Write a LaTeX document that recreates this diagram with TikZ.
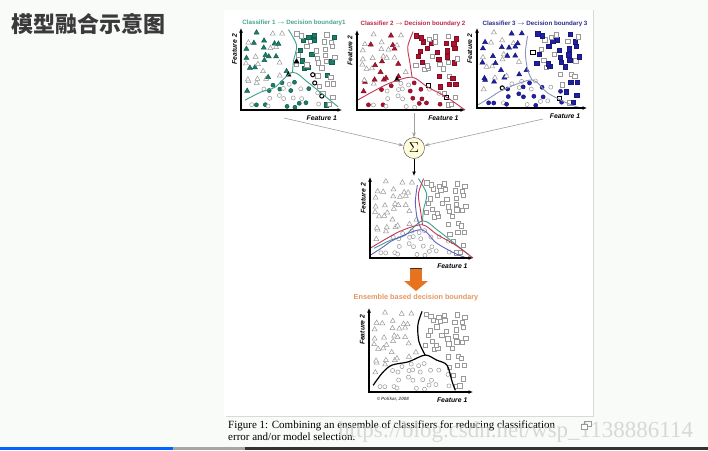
\documentclass[tikz,border=0pt]{standalone}
\usepackage{fontspec}
\setmainfont{Liberation Serif}
\setsansfont{Liberation Sans}
\newfontfamily\cjkfont{Noto Sans CJK SC}
\usetikzlibrary{shapes.geometric,arrows.meta,positioning}

\definecolor{pagebg}{RGB}{249,251,249}
\definecolor{titlegray}{RGB}{58,58,58}
\definecolor{cone}{RGB}{28,125,105}
\definecolor{ctwo}{RGB}{175,18,48}
\definecolor{cthree}{RGB}{32,32,165}
\definecolor{bone}{RGB}{60,160,140}
\definecolor{btwo}{RGB}{195,55,85}
\definecolor{bthree}{RGB}{140,150,185}
\definecolor{tone}{RGB}{70,165,145}
\definecolor{ttwo}{RGB}{190,40,70}
\definecolor{tthree}{RGB}{45,45,140}
\definecolor{ensorange}{RGB}{232,115,30}
\definecolor{enstext}{RGB}{230,150,95}

\tikzset{
  axis/.style={line width=1.1pt, {Latex[length=4.5pt,width=4pt]}-{Latex[length=4.5pt,width=4pt]}},
  flabel/.style={font=\sffamily\bfseries\itshape\fontsize{6.8}{7}\selectfont, inner sep=0pt},
  ctitle/.style={font=\sffamily\bfseries\fontsize{6.2}{6.5}\selectfont, inner sep=0pt},
  tri/.style={regular polygon, regular polygon sides=3, inner sep=0pt, minimum size=5.8pt, line width=0.5pt},
  sq/.style={rectangle, inner sep=0pt, minimum size=4.3pt, line width=0.5pt},
  dot/.style={circle, inner sep=0pt, minimum size=4.1pt, line width=0.5pt},
  bnd/.style={line width=0.9pt},
  conn/.style={draw=gray!75, line width=0.6pt, -{Stealth[length=5pt,width=3.5pt]}},
}

% one data set, drawn in every panel: #1 tag, #2 colour, #3 share filled, #4 shift of that share
\newcommand{\scatterdots}[4]{%
  \pgfmathsetseed{2008}
  \foreach \gx in {0,...,11}{
  \foreach \gy in {0,...,10}{
    \pgfmathsetmacro{\px}{0.075+0.075*\gx+0.065*(rnd-0.5)}
    \pgfmathsetmacro{\py}{0.06+0.086*\gy+0.065*(rnd-0.5)}
    \pgfmathsetmacro{\pr}{rnd}
    \pgfmathsetmacro{\pk}{rnd}
    \pgfmathsetmacro{\vb}{\px<0.13 ? 0.08+1.67*(\px-0.04) : (\px<0.22 ? 0.23+(\px-0.13) : (\px<0.38 ? 0.32+0.25*(\px-0.22) : (\px<0.54 ? 0.36+0.5*(\px-0.38) : (\px<0.75 ? 0.44-0.57*(\px-0.54) : 0.32-3.75*(\px-0.75)))))}
    \pgfmathtruncatemacro{\cls}{\pk<0.12 ? 0 : (abs(\py-\vb)<0.04 ? 0 : (\py<\vb ? 3 : (abs(\px-0.49)<0.035 ? 0 : (\px<0.49 ? 1 : 2))))}
    \pgfmathsetmacro{\ps}{\pr+#4-floor(\pr+#4)}
    \pgfmathtruncatemacro{\hit}{\ps<#3 ? 1 : 0}
    \ifnum\cls>0
      \ifcase\cls\or\def\mk{tri}\or\def\mk{sq}\or\def\mk{dot}\fi
      \ifnum\hit=1
        \node[\mk, draw=#2!75!black, fill=#2] (#1-\gx-\gy) at (\px,\py) {};
      \else
        \node[\mk, draw=gray!80, fill=white] (#1-\gx-\gy) at (\px,\py) {};
      \fi
    \fi
  }}
}

% axes of one panel
\newcommand{\featureaxes}[1]{%
  \draw[axis] (0,1) |- (1,0);
  \node[flabel, rotate=90] (#1-y) at (-0.065,0.74) {Feature 2};
  \node[flabel] (#1-x) at (0.8,-0.1) {Feature 1};
}

\begin{document}
\begin{tikzpicture}[x=1pt,y=-1pt,font=\sffamily]
  % page
  \fill[pagebg] (0,0) rectangle (708,450);
  \useasboundingbox (0,0) rectangle (708,450);
  \fill[white] (224,10) rectangle (593,416);
  \draw[gray!30] (593,10) -- (593,416) -- (226,416);

  % title
  \node[anchor=west, inner sep=0pt, text=titlegray, font=\cjkfont\bfseries\fontsize{22}{22}\selectfont] (title) at (11,24) {模型融合示意图};

  % classifier 1
  \begin{scope}[shift={(241,110)},x=101pt,y=82pt]
    \scatterdots{pa}{cone}{0.5}{0.0}
    \foreach \qx/\qy [count=\k] in {0.55/0.59,0.47/0.43}
      \node[tri, draw=black, fill=black] (pa-t\k) at (\qx,\qy) {};
    \foreach \qx/\qy [count=\k] in {0.71/0.43,0.73/0.33,0.80/0.17}
      \node[dot, draw=black, line width=1pt, fill=white] (pa-c\k) at (\qx,\qy) {};
    \draw[bnd, bone] plot[smooth] coordinates {(0.47,0.98) (0.55,0.79) (0.52,0.60) (0.51,0.46)};
    \draw[bnd, bone] plot[smooth] coordinates {(0.04,0.12) (0.20,0.22) (0.34,0.28) (0.51,0.46) (0.66,0.34) (0.78,0.22) (0.96,0.04)};
    \featureaxes{pa}
  \end{scope}
  \node[ctitle, text=tone] (ta) at (294,23) {Classifier 1 $\rightarrow$ Decision boundary1};

  % classifier 2
  \begin{scope}[shift={(357,110)},x=108pt,y=80pt]
    \scatterdots{pb}{ctwo}{0.5}{0.3}
    \node[tri, draw=black, fill=black] (pb-t1) at (0.37,0.38) {};
    \foreach \qx/\qy [count=\k] in {0.66/0.31,0.83/0.16}
      \node[sq, draw=black, line width=1pt, fill=white] (pb-s\k) at (\qx,\qy) {};
    \draw[bnd, btwo] plot[smooth] coordinates {(0.52,0.98) (0.47,0.79) (0.49,0.59) (0.51,0.41)};
    \draw[bnd, btwo] plot[smooth] coordinates {(0.0,0.12) (0.16,0.24) (0.31,0.34) (0.51,0.41) (0.65,0.29) (0.83,0.16) (1.0,0.0)};
    \featureaxes{pb}
  \end{scope}
  \node[ctitle, text=ttwo] (tb) at (413,24) {Classifier 2 $\rightarrow$ Decision boundary 2};

  % classifier 3
  \begin{scope}[shift={(477,108)},x=110pt,y=80pt]
    \scatterdots{pc}{cthree}{0.5}{0.6}
    \foreach \qx/\qy [count=\k] in {0.51/0.69,0.75/0.12}
      \node[sq, draw=black, line width=1pt, fill=white] (pc-s\k) at (\qx,\qy) {};
    \node[dot, draw=black, line width=1pt, fill=white] (pc-c1) at (0.23,0.25) {};
    \draw[bnd, bthree] plot[smooth] coordinates {(0.46,0.90) (0.44,0.69) (0.46,0.48) (0.50,0.35)};
    \draw[bnd, bthree] plot[smooth] coordinates {(0.01,0.04) (0.12,0.13) (0.24,0.23) (0.50,0.35) (0.64,0.19) (0.82,0.06) (0.94,0.0)};
    \featureaxes{pc}
  \end{scope}
  \node[ctitle, text=tthree] (tc) at (535,24) {Classifier 3 $\rightarrow$ Decision boundary 3};

  % combiner
  \node[circle, draw=gray!50!black, fill=yellow!15, minimum size=21pt, inner sep=0pt,
        font=\fontsize{15}{15}\selectfont] (sum) at (414,148) {$\Sigma$};
  \coordinate (fromA) at (284,118);
  \coordinate (fromB) at (414,113);
  \coordinate (fromC) at (543,119);
  \coordinate (intoM) at (414,176);
  \draw[conn] (fromA) -- (sum);
  \draw[conn] (fromB) -- (sum);
  \draw[conn] (fromC) -- (sum);
  \draw[line width=0.9pt, -{Latex[length=4.5pt,width=4pt]}] (sum) -- (intoM);

  % all three boundaries
  \begin{scope}[shift={(370,258)},x=103pt,y=81pt]
    \scatterdots{pm}{gray}{0}{0}
    \draw[bnd, bone] plot[smooth] coordinates {(0.47,0.98) (0.55,0.79) (0.52,0.60) (0.51,0.46)};
    \draw[bnd, bone] plot[smooth] coordinates {(0.04,0.12) (0.20,0.22) (0.34,0.28) (0.51,0.46) (0.66,0.34) (0.78,0.22) (0.96,0.04)};
    \draw[bnd, btwo] plot[smooth] coordinates {(0.52,0.98) (0.47,0.79) (0.49,0.59) (0.51,0.41)};
    \draw[bnd, btwo] plot[smooth] coordinates {(0.0,0.12) (0.16,0.24) (0.31,0.34) (0.51,0.41) (0.65,0.29) (0.83,0.16) (1.0,0.0)};
    \draw[bnd, cthree!70] plot[smooth] coordinates {(0.46,0.90) (0.44,0.69) (0.46,0.48) (0.50,0.35)};
    \draw[bnd, cthree!70] plot[smooth] coordinates {(0.01,0.04) (0.12,0.13) (0.24,0.23) (0.50,0.35) (0.64,0.19) (0.82,0.06) (0.94,0.0)};
    \featureaxes{pm}
  \end{scope}

  % ensemble arrow
  \fill[ensorange] (410,269) rectangle (422,281.5);
  \fill[ensorange] (404,281) -- (416,291) -- (428,281) -- cycle;
  \draw[black!80, line width=1.2pt] (410,268.5) -- (422,268.5);
  \node[font=\sffamily\bfseries\fontsize{7.3}{8}\selectfont, text=enstext] (enslabel) at (416,298) {Ensemble based decision boundary};

  % final boundary
  \begin{scope}[shift={(369,392)},x=104pt,y=84pt]
    \scatterdots{pf}{gray}{0}{0}
    \draw[line width=1.2pt] plot[smooth] coordinates {(0.51,0.96) (0.47,0.80) (0.48,0.60) (0.54,0.44)};
    \draw[line width=1.2pt] plot[smooth] coordinates {(0.04,0.08) (0.13,0.23) (0.22,0.32) (0.38,0.36) (0.54,0.44) (0.65,0.38) (0.75,0.32) (0.80,0.12) (0.83,0.02)};
    \featureaxes{pf}
    \node[font=\sffamily\bfseries\itshape\fontsize{4.6}{5}\selectfont, text=gray!70!black] (credit) at (0.23,-0.085) {\textcopyright\,Polikar, 2008};
  \end{scope}

  % caption
  \node[anchor=north west, align=left, inner sep=0pt, font=\rmfamily\fontsize{11}{12}\selectfont] (caption) at (228,421)
    {Figure 1: Combining an ensemble of classifiers for reducing classification\\error and/or model selection.};
  \node[anchor=base west, inner sep=0pt, text=gray!40, opacity=0.75, font=\rmfamily\fontsize{23}{24}\selectfont] (mark) at (338,437) {https://blog.csdn.net/wsp\_1138886114};
  \draw[gray!80, line width=0.6pt] (584,421.5) rectangle (591,426.5);
  \draw[gray!80, line width=0.6pt, fill=white] (581,424.5) rectangle (587,429);

  % player bar
  \fill[blue!60!cyan] (0,447) rectangle (173,450);
  \fill[gray!70] (173,447) rectangle (245,450);
  \fill[black!80] (245,447) rectangle (708,450);
\end{tikzpicture}
\end{document}
